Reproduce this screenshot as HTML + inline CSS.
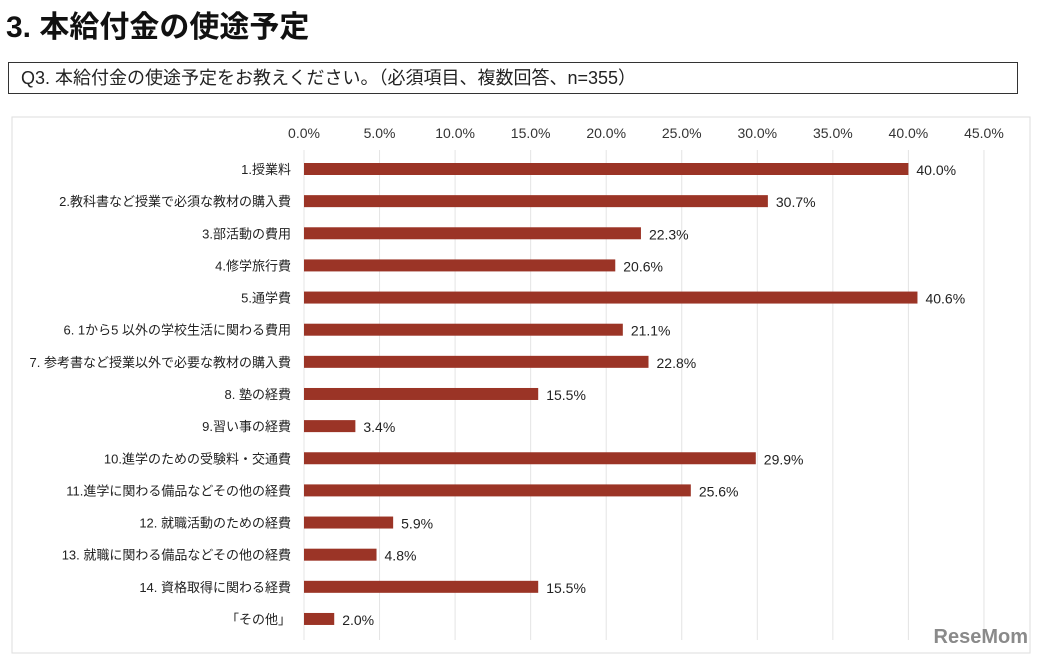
<!DOCTYPE html>
<html><head><meta charset="utf-8"><style>
body{margin:0;width:1040px;height:658px;background:#fff;overflow:hidden;font-family:"Liberation Sans","Noto Sans CJK JP",sans-serif;}
#title{position:absolute;left:6px;top:2px;font-size:30px;font-weight:bold;color:#111;}
#q{position:absolute;left:8px;top:62px;width:1010px;height:32px;border:1.5px solid #333;font-size:18px;line-height:30px;padding-left:12px;box-sizing:border-box;color:#222;}
svg{position:absolute;left:0;top:0;}
</style></head><body>
<div id="title">3. 本給付金の使途予定</div>
<div id="q">Q3. 本給付金の使途予定をお教えください。（必須項目、複数回答、n=355）</div>
<svg id="chart" width="1040" height="658">
<rect x="12" y="117" width="1018" height="536" fill="none" stroke="#ddd"/>
</svg>
<script>
const categories=["1.授業料","2.教科書など授業で必須な教材の購入費","3.部活動の費用","4.修学旅行費","5.通学費","6. 1から5 以外の学校生活に関わる費用","7. 参考書など授業以外で必要な教材の購入費","8. 塾の経費","9.習い事の経費","10.進学のための受験料・交通費","11.進学に関わる備品などその他の経費","12. 就職活動のための経費","13. 就職に関わる備品などその他の経費","14. 資格取得に関わる経費","「その他」"];
const values=[40.0,30.7,22.3,20.6,40.6,21.1,22.8,15.5,3.4,29.9,25.6,5.9,4.8,15.5,2.0];
const ticks=[0,5,10,15,20,25,30,35,40,45];
const svg=document.getElementById('chart');const NS='http://www.w3.org/2000/svg';
const x=v=>304+v*15.11;const y=i=>169+i*32.14;
function mk(t,a){const e=document.createElementNS(NS,t);for(const k in a)e.setAttribute(k,a[k]);svg.appendChild(e);return e;}
ticks.forEach(t=>{
 const l=mk('line',{x1:x(t),x2:x(t),y1:150,y2:640,stroke:'#e4e4e4'});
 
 
 const tx=mk('text',{x:x(t),y:138,'text-anchor':'middle','font-size':14,fill:'#333'});tx.textContent=t.toFixed(1)+'%';
 
 
});
categories.forEach((c,i)=>{
 const lb=mk('text',{x:291,y:y(i)+5,'text-anchor':'end','font-size':13,fill:'#222'});lb.textContent=c;
 
 
 const b=mk('rect',{x:x(0),y:y(i)-6,width:x(values[i])-x(0),height:12,fill:'#9b3426'});
 
 
 const v=mk('text',{x:x(values[i])+8,y:y(i)+6,'font-size':14,fill:'#222'});v.textContent=values[i].toFixed(1)+'%';
 
 
});
const wm=mk('text',{x:1028,y:643,'text-anchor':'end','font-size':20,'font-weight':'bold',fill:'#8a8a8a'});wm.textContent='ReseMom';


</script>
</body></html>
